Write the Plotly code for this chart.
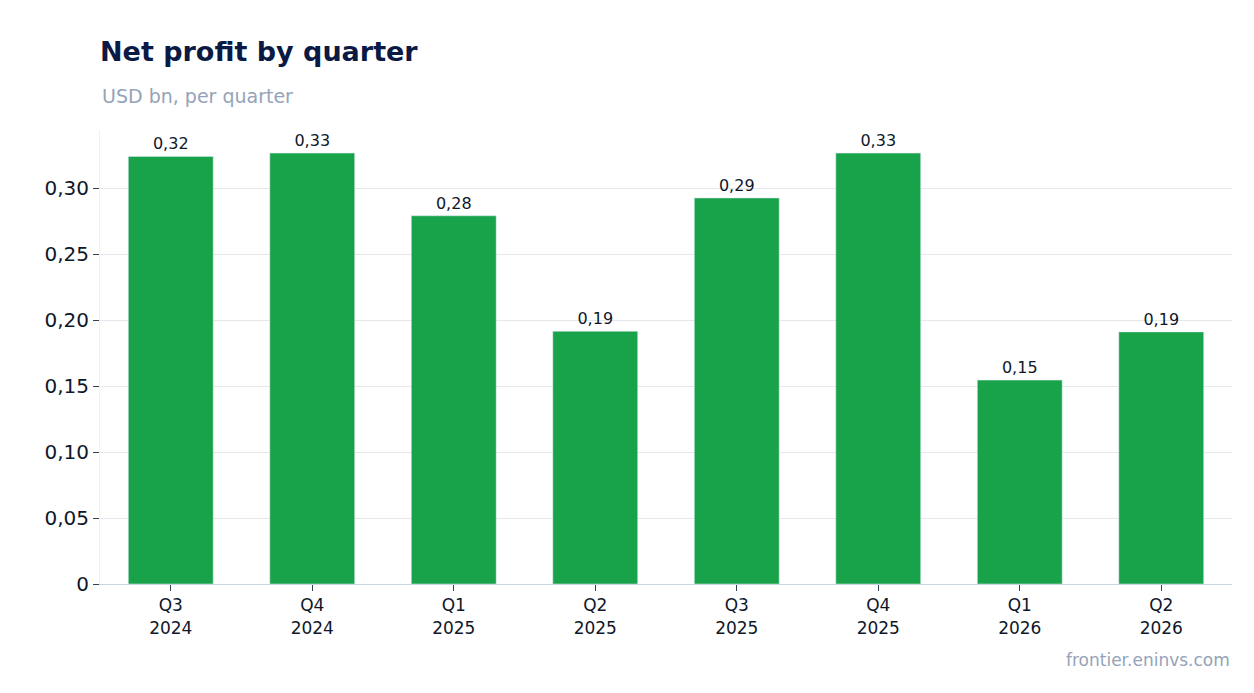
import plotly.graph_objects as go

quarters = ["Q3<br>2024", "Q4<br>2024", "Q1<br>2025", "Q2<br>2025",
            "Q3<br>2025", "Q4<br>2025", "Q1<br>2026", "Q2<br>2026"]
net_profit = [0.324, 0.3265, 0.279, 0.1915, 0.2925, 0.3265, 0.1545, 0.191]
y_ticks = [0, 0.05, 0.10, 0.15, 0.20, 0.25, 0.30]
y_tick_labels = ["0", "0,05", "0,10", "0,15", "0,20", "0,25", "0,30"]

fig = go.Figure(go.Bar(
    x=quarters, y=net_profit,
    marker_color="#18a34a", width=0.6,
    text=[f"{v:.2f}".replace(".", ",") for v in net_profit],
    textposition="outside", cliponaxis=False,
    textfont=dict(size=16, color="#0f172a"),
))

fig.update_layout(
    width=1254, height=693,
    margin=dict(l=92, r=30, t=122, b=117),
    paper_bgcolor="white", plot_bgcolor="white",
    font=dict(family="DejaVu Sans", color="#0f172a"),
    title=dict(text="<b>Net profit by quarter</b>", x=92/1254, xanchor="left",
               y=1 - 44/693, yanchor="middle",
               font=dict(size=27, color="#0b1a45")),
    showlegend=False, bargap=0.4,
    annotations=[
        dict(text="USD bn, per quarter", xref="paper", yref="paper",
             x=0, y=1 + 34/454, xanchor="left", yanchor="middle",
             showarrow=False, font=dict(size=19, color="#94a3b8")),
        dict(text="frontier.eninvs.com", xref="paper", yref="paper",
             x=1, y=-76/454, xanchor="right", yanchor="middle",
             showarrow=False, font=dict(size=17, color="#94a3b8")),
    ],
)
fig.update_xaxes(showline=True, linecolor="#cbd5e1", ticks="outside",
                 tickcolor="#334155", ticklen=6, tickfont=dict(size=17))
fig.update_yaxes(range=[0, 0.344], tickvals=y_ticks, ticktext=y_tick_labels,
                 showgrid=True, gridcolor="#e5e7eb", zeroline=False,
                 showline=True, linecolor="#eef0f3", ticks="outside",
                 tickcolor="#334155", ticklen=6, tickfont=dict(size=20))

fig.write_html("out.html")
